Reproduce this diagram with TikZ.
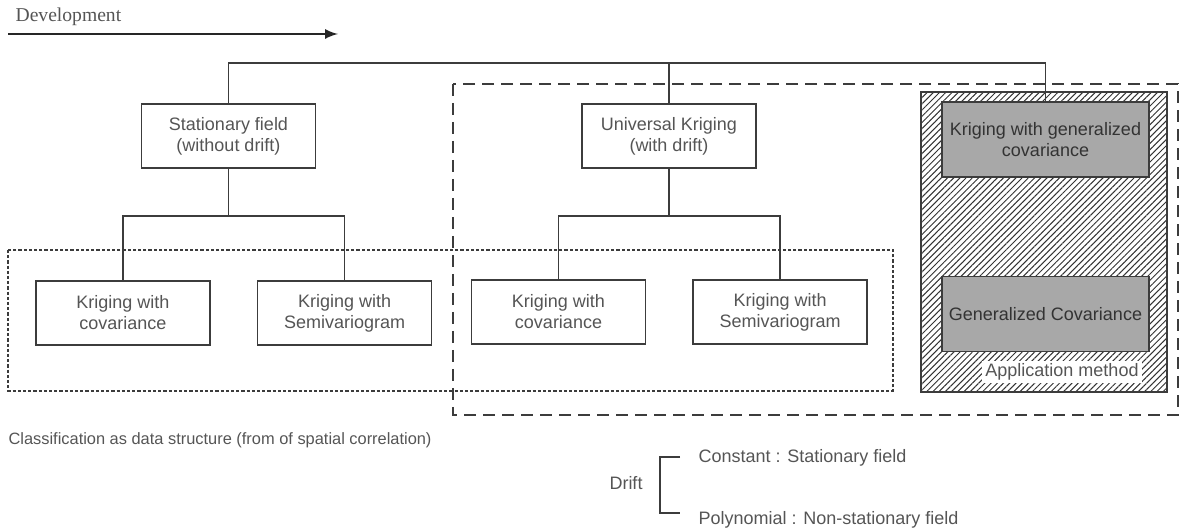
\documentclass[tikz,border=0pt]{standalone}
\usepackage{fontspec}
\setmainfont{Liberation Sans}
\newfontfamily\devfont{Liberation Serif}
\usetikzlibrary{arrows,positioning,patterns.meta}

\definecolor{txtgray}{HTML}{555555}
\definecolor{linegray}{HTML}{3C3C3C}
\definecolor{boxgray}{HTML}{A8A8A8}

\begin{document}
\begin{tikzpicture}[x=0.5pt, y=-0.5pt, semithick, >=latex, font=\fontsize{9}{10.5}\selectfont]
    \tikzstyle{box}=[draw=linegray, thick, fill=white, text=txtgray, align=center, minimum width=87pt, minimum height=32pt, inner sep=0pt]
    \tikzstyle{gbox}=[box, fill=boxgray, text=black!80, minimum width=103.5pt, minimum height=37.5pt]
    \tikzstyle{link}=[draw=linegray, thick]
    \tikzstyle{note}=[text=txtgray, inner sep=0pt]

    \useasboundingbox (0,0) rectangle (1182,528);

    % development arrow
    \node[note, anchor=west] (dev) at (15,17) {\devfont\fontsize{9.8}{11}\selectfont Development};
    \coordinate (devstart) at (8,34);
    \coordinate (devend) at (338,34);
    \draw[->, very thick, black!85] (devstart) -- (devend);

    % frames
    \draw[linegray, dash pattern=on 1.6pt off 1pt] (8,250) rectangle (893,391);
    \draw[linegray, dash pattern=on 6pt off 3.5pt] (453,84) rectangle (1178,415);
    \draw[linegray, thick, pattern={Lines[angle=45, distance=2.2pt, line width=0.5pt]}, pattern color=black!80] (921,92) rectangle (1167,392);

    % first level
    \node[box] (stat) at (228.5,136) {Stationary field\\(without drift)};
    \node[box] (uk)   at (669,136)   {Universal Kriging\\(with drift)};
    \node[gbox] (kgc) at (1045.5,139.5) {Kriging with generalized\\covariance};

    % second level
    \node[box] (kc1) at (123,313) {Kriging with\\covariance};
    \node[box] (ks1) [right=23pt of kc1] {Kriging with\\Semivariogram};
    \node[box] (kc2) at (558.5,312) {Kriging with\\covariance};
    \node[box] (ks2) [right=23pt of kc2] {Kriging with\\Semivariogram};
    \node[gbox] (gc) [below=49pt of kgc] {Generalized Covariance};

    \node[note, fill=white, inner sep=1.5pt] (appl) at (1062,372) {Application method};

    % tree edges
    \coordinate (bus) at (0,63);
    \path[link] (stat.north) |- (bus -| kgc.north) -- (kgc.north);
    \path[link] (uk.north) -- (uk.north |- bus);

    \coordinate (fork1) at (0,216);
    \path[link] (stat.south) -- (stat.south |- fork1);
    \path[link] (kc1.north) |- (fork1 -| ks1.north) -- (ks1.north);
    \path[link] (uk.south) -- (uk.south |- fork1);
    \path[link] (kc2.north) |- (fork1 -| ks2.north) -- (ks2.north);

    % notes
    \node[note, anchor=west, font=\fontsize{8.2}{10}\selectfont] (classif) at (8,440) {Classification as data structure (from of spatial correlation)};

    \node[note] (drift) at (626,483) {Drift};
    \node[note, anchor=west] (const) at (698,458) {Constant : Stationary field};
    \node[note, anchor=west] (poly)  at (698,520) {Polynomial : Non-stationary field};
    \coordinate (brtl) at (680,457);
    \coordinate (brbl) at (680,513);
    \coordinate (brt) at (660,457);
    \coordinate (brb) at (660,513);
    \path[link, semithick] (brtl) -- (brt) -- (brb) -- (brbl);
\end{tikzpicture}
\end{document}
